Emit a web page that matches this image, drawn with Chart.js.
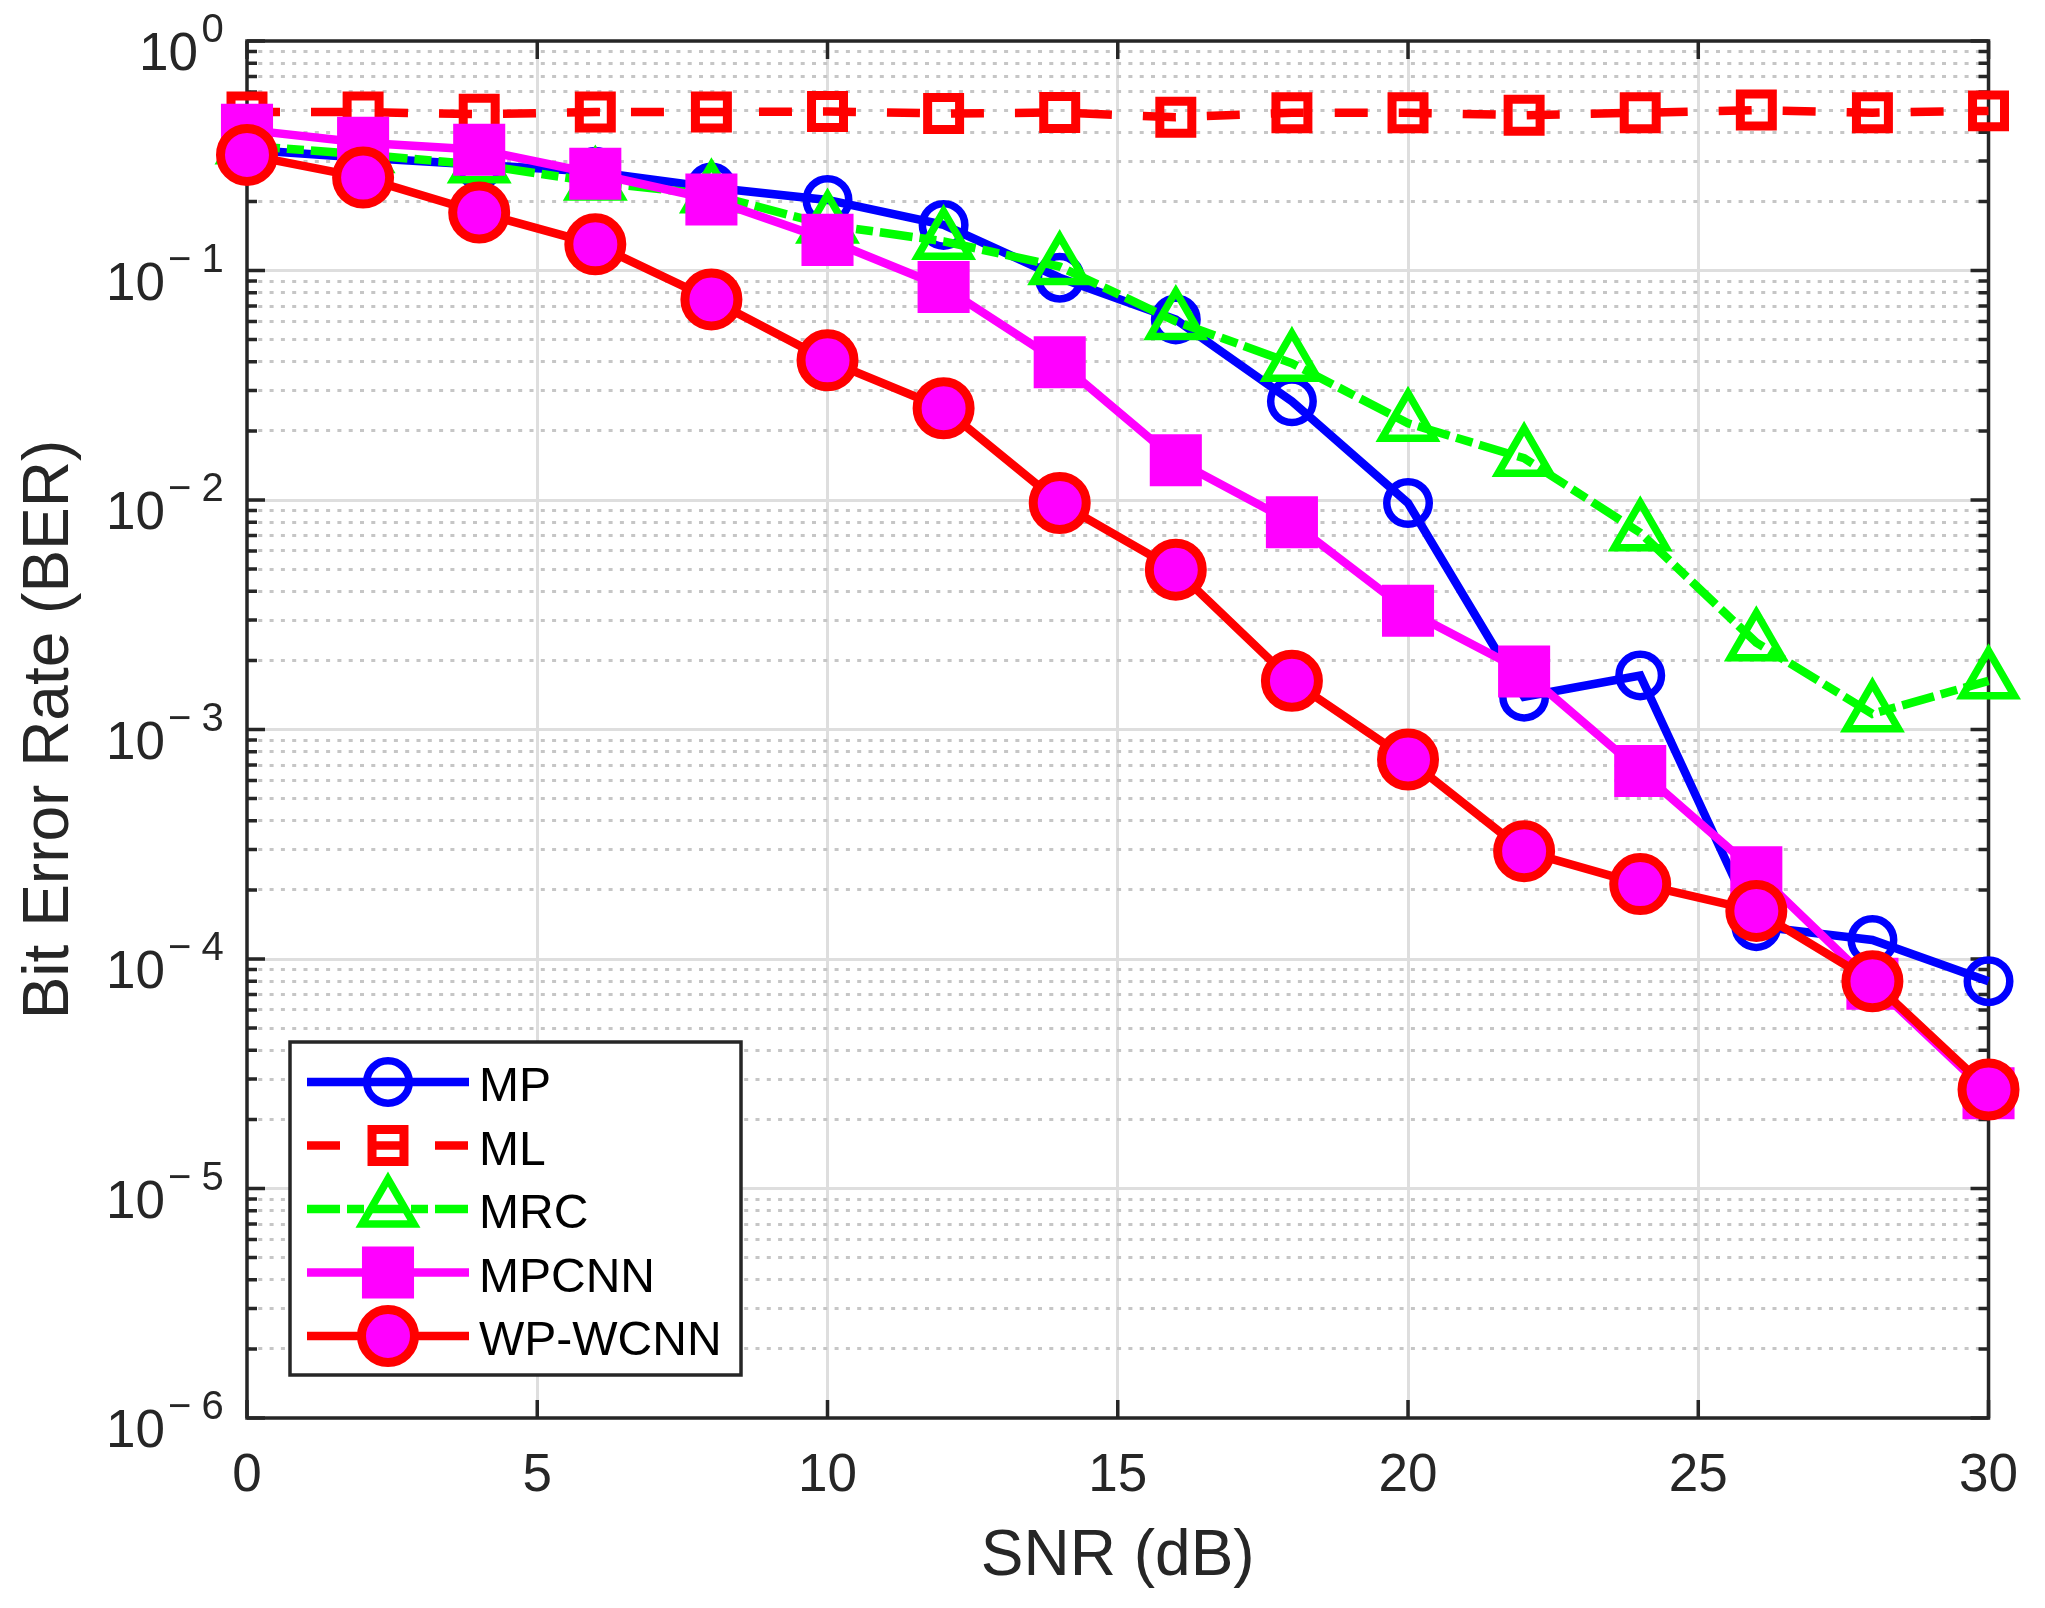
<!DOCTYPE html>
<html>
<head>
<meta charset="utf-8">
<title>BER vs SNR</title>
<script src="https://cdn.jsdelivr.net/npm/chart.js"></script>
<style>
  html, body { margin: 0; padding: 0; background: #fff; }
  canvas { display: block; }
</style>
</head>
<body>
<canvas id="berChart" width="2045" height="1608"></canvas>
<script>
// SNR points (dB)
const snr = [0, 2, 4, 6, 8, 10, 12, 14, 16, 18, 20, 22, 24, 26, 28, 30];

// BER
const berMP = [0.336, 0.31, 0.289, 0.269, 0.23, 0.203, 0.158, 0.093, 0.0612, 0.0269, 0.0097, 0.00139, 0.00172, 1.39e-4, 1.21e-4, 8.0e-5];
const berML = [0.49, 0.49, 0.48, 0.49, 0.49, 0.493, 0.483, 0.488, 0.465, 0.487, 0.487, 0.475, 0.487, 0.50, 0.487, 0.496];
const berMRC = [0.35, 0.32, 0.289, 0.243, 0.214, 0.158, 0.134, 0.104, 0.060, 0.0394, 0.0216, 0.0152, 0.0072, 0.00239, 0.00117, 0.00163];
const berMPCNN = [0.41, 0.36, 0.336, 0.264, 0.204, 0.136, 0.0847, 0.0398, 0.0149, 0.0080, 0.00329, 0.00179, 6.6e-4, 2.39e-4, 7.8e-5, 2.6e-5];
const berWPWCNN = [0.319, 0.254, 0.179, 0.130, 0.0748, 0.0406, 0.0251, 0.0097, 0.00497, 0.00163, 7.4e-4, 2.95e-4, 2.12e-4, 1.62e-4, 8.0e-5, 2.7e-5];

const seriesNames = ['MP', 'ML', 'MRC', 'MPCNN', 'WP-WCNN'];
const seriesValues = [berMP, berML, berMRC, berMPCNN, berWPWCNN];

// axis ticks
const xTicks = [0, 5, 10, 15, 20, 25, 30];
const yExponents = [0, -1, -2, -3, -4, -5, -6];

const FONT = "'Liberation Sans', Arial, Helvetica, sans-serif";
const AXIS_COLOR = '#262626';

// look of each series (MATLAB style line + marker)
const seriesStyles = [
  { color: '#0000ff', dash: [], marker: 'circle', radius: 21.25, markerWidth: 7.5, fill: null },
  { color: '#ff0000', dash: [33, 31], marker: 'rect', radius: 22.6, markerWidth: 9, fill: null },
  { color: '#00ff00', dash: [33, 7, 17, 7], marker: 'triangle', radius: 30, markerWidth: 7.5, fill: null },
  { color: '#ff00ff', dash: [], marker: 'rect', radius: 35.4, markerWidth: 2, fill: '#ff00ff' },
  { color: '#ff0000', dash: [], marker: 'circle', radius: 26.5, markerWidth: 9, fill: '#ff00ff' }
];

const isDecade = (v) => Math.abs(Math.log10(v) - Math.round(Math.log10(v))) < 1e-9;

const datasets = seriesNames.map((name, i) => {
  const st = seriesStyles[i];
  return {
    label: name,
    data: snr.map((s, j) => ({ x: s, y: seriesValues[i][j] })),
    borderColor: st.color,
    backgroundColor: 'rgba(0,0,0,0)',
    borderWidth: 8.5,
    borderDash: st.dash,
    fill: false,
    tension: 0,
    clip: false,
    pointStyle: st.marker,
    pointRadius: st.radius,
    pointHoverRadius: st.radius,
    pointBorderWidth: st.markerWidth,
    pointHoverBorderWidth: st.markerWidth,
    pointBorderColor: st.color,
    pointBackgroundColor: st.fill || 'rgba(0,0,0,0)',
    order: seriesNames.length - i   // later series on top, like MATLAB
  };
});

// marker drawing used by the legend
function drawMarker(ctx, st, x, y) {
  const r = st.radius;
  ctx.beginPath();
  if (st.marker === 'circle') {
    ctx.arc(x, y, r, 0, Math.PI * 2);
  } else if (st.marker === 'rect') {
    const s = r * Math.SQRT1_2;
    ctx.rect(x - s, y - s, 2 * s, 2 * s);
  } else if (st.marker === 'triangle') {
    let a = 0;
    ctx.moveTo(x + Math.sin(a) * r, y - Math.cos(a) * r);
    a += Math.PI * 2 / 3;
    ctx.lineTo(x + Math.sin(a) * r, y - Math.cos(a) * r);
    a += Math.PI * 2 / 3;
    ctx.lineTo(x + Math.sin(a) * r, y - Math.cos(a) * r);
  }
  ctx.closePath();
  if (st.fill) {
    ctx.fillStyle = st.fill;
    ctx.fill();
  }
  ctx.setLineDash([]);
  ctx.lineWidth = st.markerWidth;
  ctx.strokeStyle = st.color;
  ctx.stroke();
}

const matlabAxes = {
  id: 'matlabAxes',
  beforeDatasetsDraw(chart) {
    const { ctx, chartArea: a, scales } = chart;
    ctx.save();
    ctx.strokeStyle = AXIS_COLOR;
    ctx.lineWidth = 3.5;
    ctx.setLineDash([]);
    ctx.beginPath();
    // inward ticks on x (bottom and top)
    xTicks.forEach(v => {
      const px = scales.x.getPixelForValue(v);
      ctx.moveTo(px, a.bottom); ctx.lineTo(px, a.bottom - 18);
      ctx.moveTo(px, a.top); ctx.lineTo(px, a.top + 18);
    });
    // inward ticks on y (left and right)
    scales.y.ticks.forEach(t => {
      const py = scales.y.getPixelForValue(t.value);
      const len = isDecade(t.value) ? 18 : 10;
      ctx.moveTo(a.left, py); ctx.lineTo(a.left + len, py);
      ctx.moveTo(a.right, py); ctx.lineTo(a.right - len, py);
    });
    ctx.stroke();
    ctx.strokeRect(a.left, a.top, a.right - a.left, a.bottom - a.top);
    ctx.restore();
  },
  afterDraw(chart) {
    const { ctx, chartArea: a, scales } = chart;
    ctx.save();

    // y tick labels as 10 with superscript exponent
    ctx.fillStyle = AXIS_COLOR;
    ctx.textBaseline = 'alphabetic';
    yExponents.forEach(k => {
      const py = scales.y.getPixelForValue(Math.pow(10, k));
      ctx.font = '53px ' + FONT;
      ctx.textAlign = 'right';
      ctx.fillText('10', a.left - (k === 0 ? 49 : 82), py + 29);
      ctx.font = '40px ' + FONT;
      ctx.textAlign = 'left';
      if (k < 0) ctx.fillText('\u2212', a.left - 79, py + 1);
      ctx.fillText(String(Math.abs(k)), a.left - 45.5, py + 1);
    });

    // legend box, south west
    const lx = a.left + 43;
    const lw = 451;
    const lh = 333;
    const ly = a.bottom - 43 - lh;
    ctx.fillStyle = '#ffffff';
    ctx.fillRect(lx, ly, lw, lh);
    ctx.strokeStyle = AXIS_COLOR;
    ctx.lineWidth = 3.5;
    ctx.setLineDash([]);
    ctx.strokeRect(lx, ly, lw, lh);

    seriesNames.forEach((name, i) => {
      const st = seriesStyles[i];
      const ry = ly + 40 + i * 63.5;
      ctx.save();
      ctx.strokeStyle = st.color;
      ctx.lineWidth = 8.5;
      ctx.setLineDash(st.dash);
      ctx.lineDashOffset = 0;
      ctx.beginPath();
      ctx.moveTo(lx + 17, ry);
      ctx.lineTo(lx + 179, ry);
      ctx.stroke();
      ctx.restore();
      drawMarker(ctx, st, lx + 98, ry);
      ctx.fillStyle = '#000000';
      ctx.font = '48px ' + FONT;
      ctx.textAlign = 'left';
      ctx.textBaseline = 'alphabetic';
      ctx.fillText(name, lx + 189, ry + 19);
    });
    ctx.restore();
  }
};

Chart.defaults.font.family = FONT;

new Chart(document.getElementById('berChart'), {
  type: 'line',
  data: { datasets: datasets },
  options: {
    responsive: false,
    devicePixelRatio: 1,
    animation: false,
    events: [],
    layout: { padding: { left: 0, top: 41, right: 53, bottom: 0 } },
    plugins: {
      legend: { display: false },
      tooltip: { enabled: false }
    },
    scales: {
      x: {
        type: 'linear',
        min: 0,
        max: 30,
        afterBuildTicks: (s) => { s.ticks = xTicks.map(v => ({ value: v })); },
        afterFit: (s) => { s.height = 190; },
        grid: {
          drawTicks: false,
          lineWidth: 3,
          color: (c) => (c.tick && c.tick.value > 0 && c.tick.value < 30) ? '#dedede' : 'rgba(0,0,0,0)'
        },
        border: { display: false },
        ticks: {
          autoSkip: false,
          maxRotation: 0,
          padding: 27,
          color: AXIS_COLOR,
          font: { family: FONT, size: 53 }
        },
        title: {
          display: true,
          text: 'SNR (dB)',
          color: AXIS_COLOR,
          font: { family: FONT, size: 64 },
          padding: { top: 0, bottom: 12 }
        }
      },
      y: {
        type: 'logarithmic',
        min: 1e-6,
        max: 1,
        afterBuildTicks: (s) => {
          const ticks = [];
          for (let k = -6; k < 0; k++) {
            for (let m = 1; m <= 9; m++) ticks.push({ value: m * Math.pow(10, k) });
          }
          ticks.push({ value: 1 });
          s.ticks = ticks;
        },
        afterFit: (s) => { s.width = 247; },
        grid: {
          drawTicks: false,
          lineWidth: 3,
          color: (c) => {
            if (!c.tick) return 'rgba(0,0,0,0)';
            const v = c.tick.value;
            if (v <= 1e-6 * 1.0001 || v >= 0.9999) return 'rgba(0,0,0,0)';
            return isDecade(v) ? '#dedede' : '#c6c6c6';
          }
        },
        border: {
          display: false,
          dash: (c) => (c.tick && !isDecade(c.tick.value)) ? [4, 7.3] : []
        },
        ticks: { display: false, autoSkip: false },
        title: {
          display: true,
          text: 'Bit Error Rate (BER)',
          color: AXIS_COLOR,
          font: { family: FONT, size: 64 },
          padding: { top: 12, bottom: 0 }
        }
      }
    }
  },
  plugins: [matlabAxes]
});
</script>
</body>
</html>
